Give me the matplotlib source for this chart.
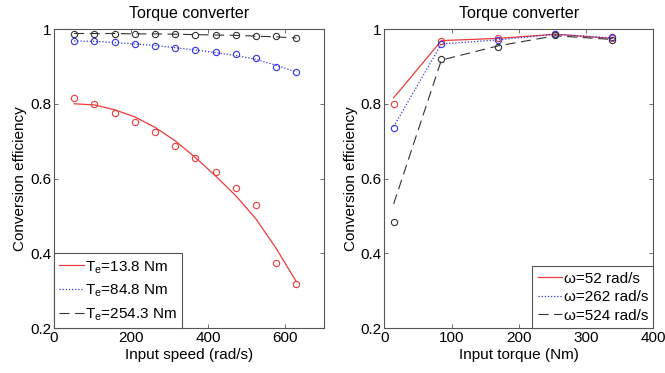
import numpy as np
import matplotlib
matplotlib.use('Agg')
import matplotlib.pyplot as plt

plt.rcParams['font.family'] = ['Liberation Sans', 'DejaVu Sans']
plt.rcParams['font.size'] = 11

# left panel: efficiency vs input speed
speed = [52.4, 104.7, 157.1, 209.4, 261.8, 314.2, 366.5, 418.9, 471.2, 523.6, 576.0, 628.3]
red_pts = [0.815, 0.799, 0.776, 0.751, 0.724, 0.688, 0.655, 0.617, 0.575, 0.530, 0.374, 0.318]
red_fit = [0.800, 0.797, 0.784, 0.765, 0.737, 0.701, 0.656, 0.607, 0.554, 0.492, 0.413, 0.324]
blue_pts = [0.969, 0.968, 0.964, 0.961, 0.955, 0.950, 0.944, 0.938, 0.932, 0.923, 0.898, 0.885]
blue_fit = [0.968, 0.967, 0.964, 0.960, 0.956, 0.950, 0.944, 0.937, 0.929, 0.919, 0.903, 0.885]
blk_pts = [0.987, 0.988, 0.988, 0.988, 0.987, 0.986, 0.985, 0.984, 0.984, 0.982, 0.980, 0.976]
blk_fit = [0.988, 0.988, 0.988, 0.987, 0.987, 0.986, 0.985, 0.984, 0.983, 0.981, 0.979, 0.976]
left_labels = ['T$_\\mathregular{e}$=13.8 Nm', 'T$_\\mathregular{e}$=84.8 Nm', 'T$_\\mathregular{e}$=254.3 Nm']

# right panel: efficiency vs input torque
torque = [13.8, 84.8, 169.5, 254.3, 339.0]
r_red_pts = [0.799, 0.968, 0.976, 0.987, 0.977]
r_red_line = [0.816, 0.969, 0.975, 0.986, 0.975]
r_blue_pts = [0.736, 0.959, 0.971, 0.987, 0.978]
r_blue_line = [0.739, 0.960, 0.971, 0.986, 0.976]
r_blk_pts = [0.484, 0.919, 0.951, 0.984, 0.971]
r_blk_line = [0.532, 0.917, 0.955, 0.982, 0.972]
right_labels = ['ω=52 rad/s', 'ω=262 rad/s', 'ω=524 rad/s']

c_red = '#ee3b3b'
c_blue = '#3535e8'
c_blk = '#333333'
axc = '#555555'

fig = plt.figure(figsize=(6.65, 3.73), dpi=100)
ax1 = fig.add_axes([0.0812, 0.1206, 0.406, 0.8016])
ax2 = fig.add_axes([0.578, 0.1206, 0.4045, 0.8016])

def style(ax):
    for s in ax.spines.values():
        s.set_color(axc)
        s.set_linewidth(0.8)
    ax.tick_params(direction='in', top=True, right=True, length=3, width=0.6,
                   color=axc, labelsize=11, pad=2)
    ax.set_ylim(0.2, 1.0)
    ax.set_yticks([0.2, 0.4, 0.6, 0.8, 1.0])
    ax.set_yticklabels(['0.2', '0.4', '0.6', '0.8', '1'])
    ax.set_ylabel('Conversion efficiency', fontsize=11, labelpad=2)
    ax.set_title('Torque converter', fontsize=11.5, pad=8)

mk = dict(marker='o', ls='none', ms=4.5, mfc='none', mew=0.8)

l1, = ax1.plot(speed, red_fit, color=c_red, lw=0.9)
l2, = ax1.plot(speed, blue_fit, color=c_blue, lw=0.9, dashes=(1, 1.5))
l3, = ax1.plot(speed, blk_fit, color=c_blk, lw=0.8, dashes=(9, 5))
ax1.plot(speed, red_pts, mec=c_red, **mk)
ax1.plot(speed, blue_pts, mec=c_blue, **mk)
ax1.plot(speed, blk_pts, mec=c_blk, **mk)
ax1.set_xlim(0, 700)
ax1.set_xticks([0, 200, 400, 600])
ax1.set_xlabel('Input speed (rad/s)', fontsize=11, labelpad=2)
style(ax1)
lg1 = ax1.legend([l1, l2, l3], left_labels, loc='lower left', borderaxespad=0,
                 fontsize=11, handlelength=1.6, handletextpad=0.1,
                 labelspacing=0.45, borderpad=0.35, fancybox=False, framealpha=1)
lg1.get_frame().set_edgecolor(axc)
lg1.get_frame().set_linewidth(0.8)

m1, = ax2.plot(torque, r_red_line, color=c_red, lw=0.9)
m2, = ax2.plot(torque, r_blue_line, color=c_blue, lw=0.9, dashes=(1, 1.5))
m3, = ax2.plot(torque, r_blk_line, color=c_blk, lw=0.8, dashes=(9, 5))
ax2.plot(torque, r_red_pts, mec=c_red, **mk)
ax2.plot(torque, r_blue_pts, mec=c_blue, **mk)
ax2.plot(torque, r_blk_pts, mec=c_blk, **mk)
ax2.set_xlim(0, 400)
ax2.set_xticks([0, 100, 200, 300, 400])
ax2.set_xlabel('Input torque (Nm)', fontsize=11, labelpad=2)
style(ax2)
lg2 = ax2.legend([m1, m2, m3], right_labels, loc='lower right', borderaxespad=0,
                 fontsize=11, handlelength=1.6, handletextpad=0.1,
                 labelspacing=0.3, borderpad=0.35, fancybox=False, framealpha=1)
lg2.get_frame().set_edgecolor(axc)
lg2.get_frame().set_linewidth(0.8)

fig.savefig('out.png', dpi=100)
